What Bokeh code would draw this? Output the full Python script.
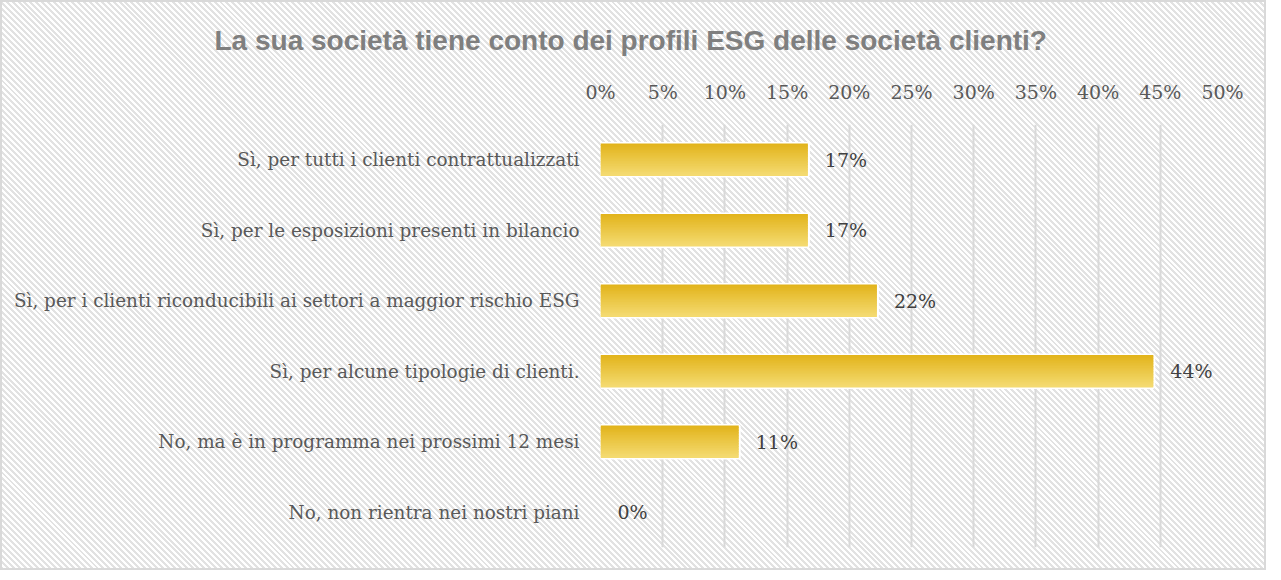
from bokeh.plotting import figure
from bokeh.models import (ColumnDataSource, InlineStyleSheet, NumeralTickFormatter,
                          FixedTicker, Range1d, FactorRange)
from bokeh.transform import dodge
from bokeh.core.properties import value
from bokeh.embed import file_html
from bokeh.resources import INLINE

# ---- data ----
categories = [
    "Sì, per tutti i clienti contrattualizzati",
    "Sì, per le esposizioni presenti in bilancio",
    "Sì, per i clienti riconducibili ai settori a maggior rischio ESG",
    "Sì, per alcune tipologie di clienti.",
    "No, ma è in programma nei prossimi 12 mesi",
    "No, non rientra nei nostri piani",
]
shares = [0.1667, 0.1667, 0.2222, 0.4444, 0.1111, 0.0]
share_labels = ["17%", "17%", "22%", "44%", "11%", "0%"]
x_ticks = [0.0, 0.05, 0.10, 0.15, 0.20, 0.25, 0.30, 0.35, 0.40, 0.45, 0.50]
title_text = "La sua società tiene conto dei profili ESG delle società clienti?"

W, H = 1266, 570
MB_L, MB_R, MB_T, MB_B = 600, 44, 124, 23
LABEL_FONT = "DejaVu Serif"

css = InlineStyleSheet(css="""
:host {
  background: repeating-linear-gradient(45deg, #ffffff 0px, #ffffff 2.1px, #e2e2e2 2.1px, #e2e2e2 4.2px);
  box-shadow: inset 0 0 0 2px #d9d9d9;
}
""")

p = figure(width=W, height=H, output_backend="svg", toolbar_location=None,
           x_range=Range1d(0, 0.5), y_range=FactorRange(factors=list(reversed(categories))),
           x_axis_location="above",
           min_border_left=MB_L, min_border_right=MB_R, min_border_top=MB_T, min_border_bottom=MB_B)
p.stylesheets = [css]
p.background_fill_color = None
p.border_fill_color = None
p.outline_line_color = None

p.title.text = title_text
p.title.align = "left"
p.title.offset = -386
p.title.text_font = "Liberation Sans"
p.title.text_font_style = "bold"
p.title.text_font_size = "28px"
p.title.text_color = "#7f7f7f"
p.title.standoff = 43

src = ColumnDataSource(dict(
    cat=categories,
    share=shares,
    label=share_labels,
    lalpha=[1.0 if s > 0 else 0.0 for s in shares],
))

BAR_H = 0.45
# white outline base
p.hbar(y="cat", left=0, right="share", height=BAR_H, source=src,
       fill_color="#ffffff", line_color="#ffffff", line_width=4, line_alpha="lalpha")

# vertical gradient (top darker gold -> bottom lighter)
top = (0xE2, 0xB4, 0x1C)
bot = (0xF4, 0xDA, 0x70)
N = 20
h = BAR_H / N
for i in range(N):
    t = i / (N - 1)
    c = tuple(int(round(top[k] + (bot[k] - top[k]) * t)) for k in range(3))
    col = "#%02x%02x%02x" % c
    off = BAR_H / 2 - (i + 0.5) * h
    p.hbar(y=dodge("cat", off, range=p.y_range), left=0, right="share",
           height=h * 1.5, source=src, fill_color=col, line_color=None)

p.text(x="share", y="cat", text="label", source=src, x_offset=17,
       text_baseline="middle", text_align="left",
       text_font=value(LABEL_FONT), text_font_size="19px", text_color="#404040")

xa = p.xaxis[0]
xa.ticker = FixedTicker(ticks=x_ticks)
xa.formatter = NumeralTickFormatter(format="0%")
xa.axis_line_color = None
xa.major_tick_line_color = None
xa.minor_tick_line_color = None
xa.major_label_standoff = 16
xa.major_label_text_font = LABEL_FONT
xa.major_label_text_font_size = "19px"
xa.major_label_text_color = "#595959"

ya = p.yaxis[0]
ya.axis_line_color = None
ya.major_tick_line_color = None
ya.minor_tick_line_color = None
ya.major_label_standoff = 15
ya.major_label_text_font = LABEL_FONT
ya.major_label_text_font_size = "18.4px"
ya.major_label_text_color = "#595959"

p.xgrid.grid_line_color = "#d9d9d9"
p.xgrid.grid_line_width = 2
p.ygrid.grid_line_color = None

open("out.html", "w").write(file_html(p, INLINE))
